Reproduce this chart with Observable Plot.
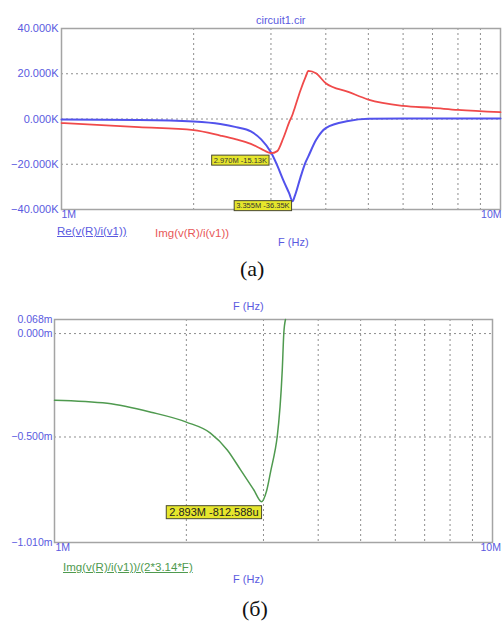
<!DOCTYPE html>
<html><head><meta charset="utf-8">
<script src="https://cdn.jsdelivr.net/npm/d3@7"></script>
<script src="https://cdn.jsdelivr.net/npm/@observablehq/plot@0.6"></script>
<style>
html,body{margin:0;padding:0;background:#fff}
body{width:502px;height:625px;position:relative;overflow:hidden;font-family:"Liberation Sans",Arial,sans-serif}
.abs{position:absolute;white-space:nowrap;line-height:1}
.cap{font-family:"Liberation Serif","Times New Roman",serif;font-size:22px;color:#111}
</style></head><body>
<script>
// ---- Chart (a): circuit1.cir ----
const freqA = [1,1.5,2,2.3,2.5,2.7,2.85,3.0,3.1,3.2,3.3,3.36,3.4,3.5,3.6,3.65,3.8,4,4.5,5,6,7,8,10]; // MHz
const reA   = [-0.2,-0.4,-1.1,-2.2,-3.6,-5.5,-9.0,-14.7,-20.5,-27,-32.8,-36.3,-34,-26,-19,-16.5,-9.3,-4.0,-0.9,0.1,0.2,0.2,0.2,0.2]; // K
const imA   = [-1.8,-3.6,-4.9,-7.3,-9.0,-11.0,-13.2,-15.1,-14.2,-8.5,-1.5,2.0,5.0,12.5,18.7,21.3,20.2,15.8,12.0,8.6,5.8,4.9,4.0,3.0]; // K
const yTicksA = [-40,-20,0,20,40];
const yGridA = [-20,0,20];
const markFreqA = [2.97, 3.36];
const markValA  = [-15.13, -36.35];
const markTextA = ["2.970M -15.13K", "3.355M -36.35K"];
const legendA = ["Re(v(R)/i(v1))", "Img(v(R)/i(v1))"];

// ---- Chart (б) ----
const freqB = [1,1.32,1.66,2.0,2.27,2.48,2.66,2.85,2.97,3.05,3.12,3.19,3.224,3.311,3.338,3.368]; // MHz
const valB  = [-0.322,-0.337,-0.380,-0.428,-0.481,-0.5625,-0.659,-0.755,-0.8126,-0.76,-0.66,-0.5625,-0.5,-0.178,0,0.068]; // m
const yTicksB = [-1.01,-0.5,0,0.068];
const yGridB = [-0.5,0];
const markFreqB = [2.97];
const markValB  = [-0.8126];
const markTextB = ["2.893M -812.588u"];
const legendB = ["Img(v(R)/i(v1))/(2*3.14*F)"];

const gridF = [2,3,4,5,6,7,8,9];
const xEnds = [{f:1, t:"1M"}, {f:10, t:"10M"}];

const axisBlue = "#5a5ae0";
const gridCol = "#8e8e8e";
const frameCol = "#a4a4a4";

function place(el, left, top){ el.style.position="absolute"; el.style.left=left+"px"; el.style.top=top+"px"; document.body.appendChild(el); }
function label(text, left, top, size, color, extra){
  const d=document.createElement("div"); d.className="abs"; d.textContent=text;
  d.style.fontSize=size+"px"; d.style.color=color; if(extra) Object.assign(d.style, extra);
  place(d,left,top); return d;
}
function boxify(svg, texts, pad){
  svg.querySelectorAll('text').forEach(t=>{
    if(!texts.includes(t.textContent)) return;
    const b=t.getBBox();
    const r=document.createElementNS("http://www.w3.org/2000/svg","rect");
    r.setAttribute("x",b.x-pad); r.setAttribute("y",b.y-0.5);
    r.setAttribute("width",b.width+2*pad); r.setAttribute("height",b.height+1);
    r.setAttribute("fill","#e6e62c"); r.setAttribute("stroke","#4a4a30"); r.setAttribute("stroke-width","1");
    const tr=t.getAttribute("transform"); if(tr) r.setAttribute("transform",tr);
    t.parentNode.insertBefore(r,t);
  });
}

// ---------- (a) ----------
const dataA = freqA.map((f,i)=>({f, re:reA[i], im:imA[i]}));
const marksA = markFreqA.map((f,i)=>({f, v:markValA[i], t:markTextA[i]}));
const plotA = Plot.plot({
  width:502, height:225,
  marginTop:28, marginBottom:16, marginLeft:61, marginRight:2,
  x:{type:"log", domain:[1,10], axis:null, label:null},
  y:{domain:[-40,40], axis:null, label:null},
  style:{fontFamily:"Liberation Sans, Arial, sans-serif", background:"white", overflow:"visible"},
  marks:[
    Plot.ruleX(gridF,{x:d=>d, stroke:gridCol, strokeDasharray:"2,3", strokeWidth:1}),
    Plot.ruleY(yGridA,{y:d=>d, stroke:gridCol, strokeDasharray:"2,3", strokeWidth:1}),
    Plot.frame({stroke:frameCol, strokeWidth:1.5}),
    Plot.axisY(yTicksA,{tickSize:0, tickPadding:3, label:null, tickFormat:d=>d3.format(".3f")(d)+"K", fill:axisBlue, fontSize:11}),
    Plot.text(xEnds,{x:"f", text:"t", frameAnchor:"bottom", dy:8, dx:0, textAnchor:"start", fill:axisBlue, fontSize:10.5, filter:d=>d.f===1}),
    Plot.text(xEnds,{x:"f", text:"t", frameAnchor:"bottom", dy:8, dx:1, textAnchor:"end", fill:axisBlue, fontSize:10.5, filter:d=>d.f===10}),
    Plot.line(dataA,{x:"f", y:"re", stroke:"#5252ec", strokeWidth:2, curve:"monotone-x"}),
    Plot.line(dataA,{x:"f", y:"im", stroke:"#f04a4a", strokeWidth:1.8, curve:"monotone-x"}),
    Plot.text(marksA.slice(0,1),{x:"f", y:"v", text:"t", textAnchor:"end", dx:-2, dy:7, fontSize:7.5, fill:"#333"}),
    Plot.text(marksA.slice(1,2),{x:"f", y:"v", text:"t", textAnchor:"end", dx:-3, dy:4.5, fontSize:7.5, fill:"#333"})
  ]
});
place(plotA,0,0);
boxify(plotA, markTextA, 2);

label("circuit1.cir", 256, 15, 11, axisBlue);
label(legendA[0], 57, 226, 11.5, axisBlue, {textDecoration:"underline"});
label(legendA[1], 155, 228, 11.5, "#e85858");
label("F (Hz)", 278, 237, 11, axisBlue);
const capA = label("(а)", 240, 258, 22, "#111"); capA.classList.add("cap");

// ---------- (б) ----------
const dataB = freqB.map((f,i)=>({f, v:valB[i]}));
const marksB = markFreqB.map((f,i)=>({f, v:markValB[i], t:markTextB[i]}));
const plotB = Plot.plot({
  width:502, height:258,
  marginTop:19, marginBottom:16, marginLeft:54, marginRight:10,
  x:{type:"log", domain:[1,10], axis:null, label:null},
  y:{domain:[-1.01,0.068], axis:null, label:null},
  style:{fontFamily:"Liberation Sans, Arial, sans-serif", background:"white", overflow:"visible"},
  marks:[
    Plot.ruleX(gridF,{x:d=>d, stroke:gridCol, strokeDasharray:"2,3", strokeWidth:1}),
    Plot.ruleY(yGridB,{y:d=>d, stroke:gridCol, strokeDasharray:"2,3", strokeWidth:1}),
    Plot.frame({stroke:frameCol, strokeWidth:1.5}),
    Plot.axisY(yTicksB,{tickSize:0, tickPadding:2, label:null, tickFormat:d=>d3.format(".3f")(d)+"m", fill:axisBlue, fontSize:10.5}),
    Plot.text(xEnds,{x:"f", text:"t", frameAnchor:"bottom", dy:8, dx:1, textAnchor:"start", fill:axisBlue, fontSize:10.5, filter:d=>d.f===1}),
    Plot.text(xEnds,{x:"f", text:"t", frameAnchor:"bottom", dy:8, dx:-12, textAnchor:"start", fill:axisBlue, fontSize:10.5, filter:d=>d.f===10}),
    Plot.line(dataB,{x:"f", y:"v", stroke:"#4f9a4f", strokeWidth:1.5, curve:"monotone-x"}),
    Plot.text(marksB,{x:"f", y:"v", text:"t", textAnchor:"end", dx:-3, dy:11, fontSize:11, fill:"#222"})
  ]
});
place(plotB,0,300);
boxify(plotB, markTextB, 3);

label("F (Hz)", 233, 301, 11, axisBlue);
label(legendB[0], 63, 562, 11.5, "#4f9a4f", {textDecoration:"underline"});
label("F (Hz)", 233, 574, 11, axisBlue);
const capB = label("(б)", 242, 598, 22, "#111"); capB.classList.add("cap");
</script>
</body></html>
